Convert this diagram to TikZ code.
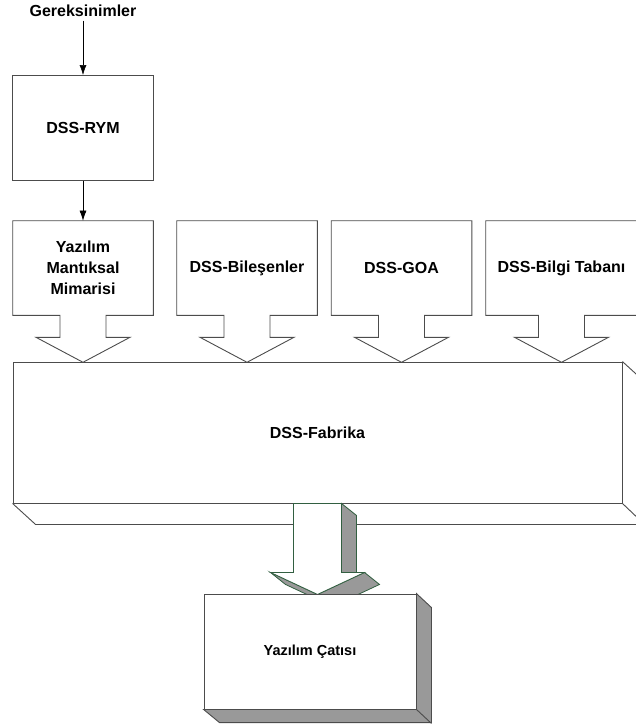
\documentclass[tikz,border=0pt]{standalone}
\usepackage{fontspec}
\setmainfont{Liberation Sans}
\usepackage{tikz}
\usetikzlibrary{arrows.meta,calc,positioning}

\definecolor{arrowgreen}{RGB}{50,95,65}

\begin{document}
\begin{tikzpicture}[x=1pt,y=-1pt,>={Latex[length=10pt,width=7pt]},semithick,
  lbl/.style={font=\fontsize{16}{21}\selectfont\bfseries,align=center},
  box/.style={lbl,draw=black!70,line width=0.9pt,inner sep=0pt},
  callbox/.style={lbl,minimum width=140pt,minimum height=94pt,inner sep=0pt},
  boxline/.style={draw=black!70,line width=0.9pt},
  shade3d/.style={draw=black!70,line width=0.9pt,fill=gray!80},
  fat/.style={draw=arrowgreen,line width=0.8pt,fill=white},
  fatshade/.style={draw=arrowgreen,line width=0.8pt,fill=gray!80}]
\useasboundingbox (0,0) rectangle (635,727);

\node[lbl] (req) at (83,11) {Gereksinimler};
\node[box,minimum width=141pt,minimum height=105pt] (rym) at (83,128) {DSS-RYM};

\node[callbox] (ymm) at (83,268) {Yaz\i l\i m\\Mant\i ksal\\Mimarisi};
\node[callbox] (bil) at (247,268) {DSS-Bileşenler};
\node[callbox] (goa) at (401.5,268) {DSS-GOA};
\node[callbox,minimum width=151pt] (bt) at (561.5,268) {DSS-Bilgi Taban\i};
\foreach \n in {ymm,bil,goa,bt}
  \draw[boxline] (\n.north west) -- (\n.north east) -- (\n.south east)
    -- ([xshift=23pt]\n.south) -- ++(0,22) -- ++(24,0) -- ++(-47,25)
    -- ++(-47,-25) -- ++(24,0) -- ++(0,-22) -- (\n.south west) -- cycle;

\draw[->] (req) -- (rym);
\draw[->] (rym) -- (ymm);

% fabrika, with its depth
\node[box,minimum width=609pt,minimum height=141pt] (fab) at (317.5,432.5) {DSS-Fabrika};
\draw[boxline] (fab.south west) -- ++(23,21) -- ++(609,0) -- (fab.south east);
\draw[boxline] (fab.north east) -- ++(23,21) -- ++(0,141);

% fat arrow down
\coordinate (fa) at (fab.south);
\draw[fatshade] ($(fa)+(24,0)$) -- +(15,12) -- +(15,81) -- +(0,69) -- cycle;
\draw[fatshade] ($(fa)+(47,69)$) -- +(15,12) -- +(-32,34) -- +(-47,22) -- cycle;
\draw[fatshade] ($(fa)+(-47,69)$) -- +(47,22) -- +(62,34) -- +(15,12) -- cycle;
\draw[fat] ($(fa)+(-24,0)$) -- +(48,0) -- +(48,69) -- +(71,69) -- +(24,91)
  -- +(-23,69) -- +(0,69) -- cycle;

\node[box,fill=white,minimum width=212pt,minimum height=115pt,
  font=\fontsize{14.5}{18}\selectfont\bfseries] (cat) at (310,651.5) {Yaz\i l\i m Çat\i s\i};
\draw[shade3d] (cat.north east) -- ++(15,14) -- ++(0,115) -- ++(-212,0)
  -- (cat.south west) -- (cat.south east) -- cycle;
\draw[boxline] (cat.south east) -- ++(15,14);
\end{tikzpicture}
\end{document}
